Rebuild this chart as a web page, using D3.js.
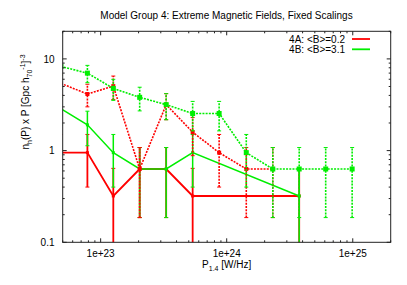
<!DOCTYPE html>
<html><head><meta charset="utf-8">
<script src="https://cdn.jsdelivr.net/npm/d3@7"></script>
<style>body{margin:0;background:#fff}svg text{font-family:"Liberation Sans",Arial,sans-serif;fill:#000}</style>
</head><body>
<script>
// ---- data ----
const xTickValues = [1e23, 1e24, 1e25];
const xTickLabels = ["1e+23", "1e+24", "1e+25"];
const yTickValues = [0.1, 1, 10];
const yTickLabels = ["0.1", "1", "10"];

const redSolidX = [4.84e22, 7.85e22, 1.26e23, 2.04e23, 3.31e23, 5.37e23, 3.76e24];
const redSolidY = [0.95, 0.95, 0.32, 0.63, 0.63, 0.32, 0.32];
const redSolidLo = [0.40, 0.40, 0, 0.186, 0.186, 0, 0];
const redSolidHi = [1.50, 1.50, 0.64, 1.08, 1.08, 0.64, 0.64];

const greenSolidX = [4.84e22, 7.85e22, 1.26e23, 2.04e23, 3.31e23, 5.37e23, 3.76e24];
const greenSolidY = [2.86, 1.91, 0.95, 0.63, 0.63, 0.95, 0.32];
const greenSolidLo = [1.9, 1.13, 0.40, 0.186, 0.186, 0.40, 0];
const greenSolidHi = [3.8, 2.69, 1.50, 1.08, 1.08, 1.50, 0.64];

const redDotX = [4.84e22, 7.85e22, 1.26e23, 2.04e23, 3.31e23, 5.37e23, 8.71e23, 1.43e24, 2.32e24];
const redDotY = [5.4, 4.14, 5.05, 0.63, 3.17, 1.59, 0.95, 0.63, 0.63];
const redDotLo = [4.09, 3.0, 3.6, 0.186, 2.17, 0.88, 0.40, 0.186, 0.186];
const redDotHi = [6.71, 5.29, 6.5, 1.08, 4.18, 2.30, 1.50, 1.08, 1.08];

const greenDotX = [4.84e22, 7.85e22, 1.26e23, 2.04e23, 3.31e23, 5.37e23, 8.71e23, 1.43e24, 2.32e24, 3.76e24, 6.10e24, 9.89e24];
const greenDotY = [8.26, 7.0, 4.76, 3.81, 3.17, 2.54, 2.54, 0.95, 0.63, 0.63, 0.63, 0.63];
const greenDotLo = [6.64, 5.5, 3.53, 2.71, 2.17, 1.64, 1.64, 0.40, 0.186, 0.186, 0.186, 0.186];
const greenDotHi = [9.88, 8.5, 5.99, 4.91, 4.18, 3.44, 3.44, 1.50, 1.08, 1.08, 1.08, 1.08];

const legendLabels = ["4A: <B>=0.2", "4B: <B>=3.1"];
const titleText = "Model Group 4: Extreme Magnetic Fields, Fixed Scalings";

// ---- layout ----
const W = 407, H = 285;
const L = 62.7, R = 390.7, T = 31.3, B = 242.3;
const RED = "#ff0000", GREEN = "#00ee00";

const svg = d3.select("body").append("svg").attr("width", W).attr("height", H);
const x = d3.scaleLog().domain([5e22, 2e25]).range([L, R]);
const y = d3.scaleLog().domain([0.1, 20]).range([B, T]);

svg.append("defs").append("clipPath").attr("id", "clip")
  .append("rect").attr("x", L).attr("y", T).attr("width", R - L).attr("height", B - T);

const plot = svg.append("g").attr("clip-path", "url(#clip)");

function yv(v) { return v > 0 ? y(v) : B + 10; }

function drawSeries(xs, ys, lo, hi, color, width, dash, msize) {
  const g = plot.append("g");
  const pts = xs.map((d, i) => ({x: d, y: ys[i], lo: lo[i], hi: hi[i]}));
  const line = d3.line().x(d => x(d.x)).y(d => y(d.y));
  g.append("path").datum(pts).attr("d", line).attr("fill", "none")
    .attr("stroke", color).attr("stroke-width", width).attr("stroke-dasharray", dash);
  const cap = 2;
  pts.forEach(d => {
    const px = x(d.x);
    g.append("line").attr("x1", px).attr("x2", px).attr("y1", yv(d.lo)).attr("y2", y(d.hi))
      .attr("stroke", color).attr("stroke-width", width).attr("stroke-dasharray", dash);
    [d.lo, d.hi].forEach(v => {
      if (v > 0) g.append("line").attr("x1", px - cap).attr("x2", px + cap)
        .attr("y1", y(v)).attr("y2", y(v)).attr("stroke", color).attr("stroke-width", 1);
    });
    g.append("rect").attr("x", px - msize / 2).attr("y", y(d.y) - msize / 2)
      .attr("width", msize).attr("height", msize).attr("fill", color);
  });
}

drawSeries(redSolidX, redSolidY, redSolidLo, redSolidHi, RED, 1.8, null, 3);
drawSeries(greenSolidX, greenSolidY, greenSolidLo, greenSolidHi, GREEN, 1.5, null, 3);
drawSeries(redDotX, redDotY, redDotLo, redDotHi, RED, 1.6, "2,1.2", 4);
drawSeries(greenDotX, greenDotY, greenDotLo, greenDotHi, GREEN, 1.6, "2,1.2", 5);

// ---- frame & ticks ----
const fr = svg.append("g").attr("stroke", "#222").attr("stroke-width", 1).attr("fill", "none");
fr.append("rect").attr("x", L).attr("y", T).attr("width", R - L).attr("height", B - T);

const xMinor = [];
x.ticks(30).forEach(v => { if (v >= 5e22 && v <= 2e25) xMinor.push(v); });
const yMinor = [];
y.ticks(30).forEach(v => { if (v >= 0.1 && v <= 20) yMinor.push(v); });
const isMajor = v => Math.abs(Math.log10(v) - Math.round(Math.log10(v))) < 1e-6;

xMinor.forEach(v => {
  const len = isMajor(v) ? 4 : 2, px = x(v);
  fr.append("line").attr("x1", px).attr("x2", px).attr("y1", B).attr("y2", B - len);
  fr.append("line").attr("x1", px).attr("x2", px).attr("y1", T).attr("y2", T + len);
});
yMinor.forEach(v => {
  const len = isMajor(v) ? 4 : 2, py = y(v);
  fr.append("line").attr("x1", L).attr("x2", L + len).attr("y1", py).attr("y2", py);
  fr.append("line").attr("x1", R).attr("x2", R - len).attr("y1", py).attr("y2", py);
});

// tick labels
xTickValues.forEach((v, i) => {
  svg.append("text").attr("x", x(v)).attr("y", 257).attr("text-anchor", "middle")
    .attr("font-size", 10).text(xTickLabels[i]);
});
yTickValues.forEach((v, i) => {
  svg.append("text").attr("x", 54.5).attr("y", y(v) + 3.6).attr("text-anchor", "end")
    .attr("font-size", 10).text(yTickLabels[i]);
});

// title
svg.append("text").attr("x", 226.5).attr("y", 18.5).attr("text-anchor", "middle")
  .attr("font-size", 10).text(titleText);

// x label
const xl = svg.append("text").attr("x", 226.7).attr("y", 268).attr("text-anchor", "middle").attr("font-size", 10);
xl.append("tspan").text("P");
xl.append("tspan").attr("font-size", 7).attr("dy", 2.5).text("1.4");
xl.append("tspan").attr("dy", -2.5).text(" [W/Hz]");

// y label
const yl = svg.append("text").attr("transform", "translate(29,102) rotate(-90)")
  .attr("text-anchor", "middle").attr("font-size", 10);
yl.append("tspan").text("n");
yl.append("tspan").attr("font-size", 7).attr("dy", 2.5).text("h");
yl.append("tspan").attr("dy", -2.5).text("(P) x P [Gpc h");
yl.append("tspan").attr("font-size", 7).attr("dy", 2.5).text("70");
yl.append("tspan").attr("font-size", 7).attr("dy", -6.5).text("-1");
yl.append("tspan").attr("dy", 4).text("]");
yl.append("tspan").attr("font-size", 7).attr("dy", -4).text("-3");

// legend
const legColors = [RED, GREEN];
legendLabels.forEach((t, i) => {
  const cy = 39 + i * 10.3;
  svg.append("text").attr("x", 345).attr("y", cy + 3.6).attr("text-anchor", "end")
    .attr("font-size", 10).text(t);
  svg.append("line").attr("x1", 352).attr("x2", 370).attr("y1", cy).attr("y2", cy)
    .attr("stroke", legColors[i]).attr("stroke-width", 1.8);
});
</script>
</body></html>
